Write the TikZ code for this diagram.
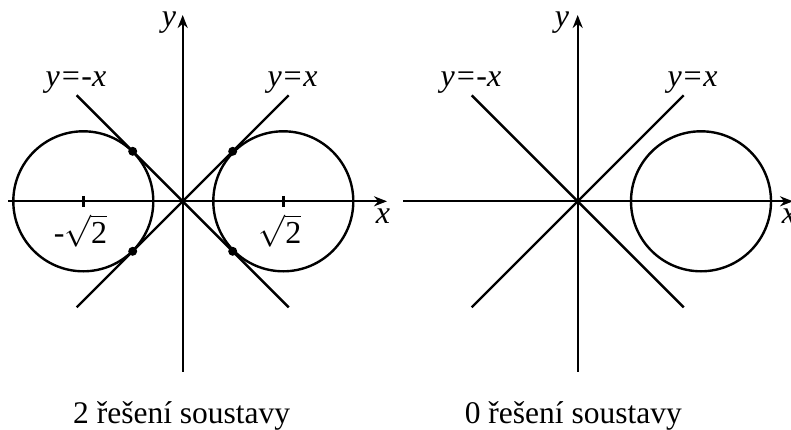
\RequirePackage{fix-cm}
\documentclass[tikz,border=0pt]{standalone}
\usepackage{fontspec}
\setmainfont{Liberation Serif}
\usetikzlibrary{arrows.meta}
\begin{document}
\begin{tikzpicture}[x=1pt,y=-1pt, line width=2.4pt,
  axis/.style={-{Stealth[length=13pt,width=10pt]}},
  lbl/.style={font=\fontsize{32}{36}\selectfont\itshape, anchor=base, inner sep=0pt},
  num/.style={font=\fontsize{32}{36}\selectfont, anchor=base, inner sep=0pt},
  captext/.style={font=\fontsize{31.5}{36}\selectfont, anchor=base, inner sep=0pt},
  tdot/.style={circle, fill, inner sep=0pt, minimum size=9pt}]
\useasboundingbox (0,0) rectangle (791,430);
% ---------- left plot ----------
\coordinate (O1) at (182.7,201.3);
\coordinate (xl1) at (8,201.3);
\coordinate (xr1) at (387,201.3);
\coordinate (yb1) at (182.7,371.7);
\coordinate (yt1) at (182.7,15);
\coordinate (C1) at (83.3,201.3);
\coordinate (C2) at (283.3,201.3);
\coordinate (a1) at (76.7,307.3);
\coordinate (b1) at (288.7,95.3);
\coordinate (c1) at (76.7,95.3);
\coordinate (d1) at (288.7,307.3);
\draw[axis] (xl1) -- (xr1);
\draw[axis] (yb1) -- (yt1);
\draw (C1) circle[radius=70pt];
\draw (C2) circle[radius=70pt];
\draw (a1) -- (b1);
\draw (c1) -- (d1);
\draw (C1) ++(0,-5.5) -- ++(0,11);
\draw (C2) ++(0,-5.5) -- ++(0,11);
\node[tdot] (p1) at (132.7,151.3) {};
\node[tdot] (p2) at (232.7,151.3) {};
\node[tdot] (p3) at (132.7,251.3) {};
\node[tdot] (p4) at (232.7,251.3) {};
\node[lbl] (ly1) at (169,27) {y};
\node[lbl] (lm1) at (76,87) {y=-x};
\node[lbl] (lp1) at (292.5,87) {y=x};
\node[lbl] (lx1) at (383,223) {x};
\node[num] (t1) at (80.5,243) {-$\sqrt{\mbox{2}}$};
\node[num] (t2) at (280,243) {$\sqrt{\mbox{2}}$};
\node[captext] (cap1) at (181.7,423.3) {2 řešení soustavy};
% ---------- right plot ----------
\coordinate (O2) at (577.7,201.3);
\coordinate (xl2) at (403,201.3);
\coordinate (xr2) at (793,201.3);
\coordinate (yb2) at (577.7,371.7);
\coordinate (yt2) at (577.7,15);
\coordinate (C3) at (701,201.3);
\coordinate (a2) at (471.7,307.3);
\coordinate (b2) at (683.7,95.3);
\coordinate (c2) at (471.7,95.3);
\coordinate (d2) at (683.7,307.3);
\draw[axis] (xl2) -- (xr2);
\draw[axis] (yb2) -- (yt2);
\draw (C3) circle[radius=70pt];
\draw (a2) -- (b2);
\draw (c2) -- (d2);
\node[lbl] (ly2) at (562,27) {y};
\node[lbl] (lm2) at (471,87) {y=-x};
\node[lbl] (lp2) at (692.5,87) {y=x};
\node[lbl] (lx2) at (789,223) {x};
\node[captext] (cap2) at (573.3,423.3) {0 řešení soustavy};
\end{tikzpicture}
\end{document}
